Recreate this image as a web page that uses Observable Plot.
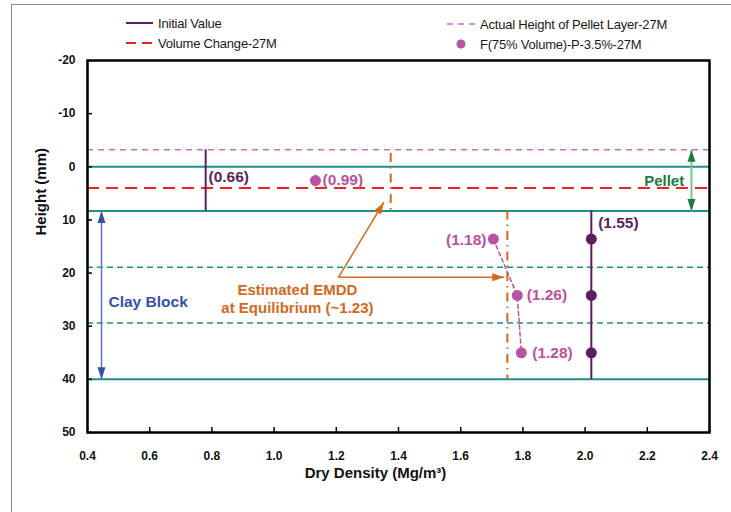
<!DOCTYPE html>
<html><head><meta charset="utf-8">
<script src="https://cdn.jsdelivr.net/npm/d3@7"></script>
<script src="https://cdn.jsdelivr.net/npm/@observablehq/plot@0.6"></script>
<style>
body{margin:0;background:#fff;}
#wrap{position:relative;width:731px;height:512px;overflow:hidden;font-family:"Liberation Sans",Arial,sans-serif;}
#frame{position:absolute;left:11px;top:4px;width:800px;height:600px;border:1px solid #8c8c8c;pointer-events:none;}
.leg{position:absolute;font-size:13px;color:#1a1a1a;display:flex;align-items:center;white-space:nowrap;height:16px;letter-spacing:-0.2px;}
.leg svg{margin-right:5px;display:block;}
</style></head><body>
<div id="wrap"><div id="chart"></div><div id="frame"></div>
<div class="leg" style="left:126px;top:15px"><svg width="27" height="16"><line x1="0" x2="27" y1="8" y2="8" stroke="#5c1f5e" stroke-width="2"/></svg>Initial Value</div>
<div class="leg" style="left:126px;top:35px"><svg width="27" height="16"><line x1="0" x2="27" y1="8" y2="8" stroke="#f02020" stroke-width="2" stroke-dasharray="10,6"/></svg>Volume Change-27M</div>
<div class="leg" style="left:447px;top:16px"><svg width="28" height="16"><line x1="0" x2="28" y1="8" y2="8" stroke="#c36fc3" stroke-width="1.5" stroke-dasharray="6,5"/></svg>Actual Height of Pellet Layer-27M</div>
<div class="leg" style="left:447px;top:36px"><svg width="28" height="16"><circle cx="14" cy="8" r="4.5" fill="#b9529f"/></svg>F(75% Volume)-P-3.5%-27M</div>
</div>
<script>
// ---- data ----
const xTicks = [0.4, 0.6, 0.8, 1.0, 1.2, 1.4, 1.6, 1.8, 2.0, 2.2, 2.4];
const yTicks = [-20, -10, 0, 10, 20, 30, 40, 50];
const tealSolidY = [0, 8.3, 40];
const tealDashedY = [18.9, 29.4];
const pelletActualY = [-3.2];
const volumeChangeY = [4.0];
const initialLines = [{x: 0.78, y1: -3.2, y2: 8.3}, {x: 2.02, y1: 8.3, y2: 40}];
const initialPoints = [{x: 2.02, y: 13.6}, {x: 2.02, y: 24.2}, {x: 2.02, y: 35.0}];
const initialLabels = [{x: 0.789, y: 1.95, label: "(0.66)"}, {x: 2.042, y: 10.6, label: "(1.55)"}];
const fPoints = [{x: 1.133, y: 2.6}, {x: 1.705, y: 13.6}, {x: 1.782, y: 24.2}, {x: 1.795, y: 35.0}];
const fCurve = [{x: 1.705, y: 13.6}, {x: 1.782, y: 24.2}, {x: 1.795, y: 35.0}];
const fLabelsStart = [{x: 1.156, y: 2.4, label: "(0.99)"}, {x: 1.812, y: 24.2, label: "(1.26)"}, {x: 1.830, y: 35.0, label: "(1.28)"}];
const fLabelsEnd = [{x: 1.683, y: 13.7, label: "(1.18)"}];
const emddLines = [{x: 1.375, y1: -2.5, y2: 8.3}, {x: 1.75, y1: 8.3, y2: 40}];
const emddArrows = [{x1: 1.207, y1: 20.8, x2: 1.353, y2: 6.67}, {x1: 1.207, y1: 20.8, x2: 1.74, y2: 20.8}];
const emddText = [{x: 1.075, y: 24.7, label: "Estimated EMDD\nat Equilibrium (~1.23)"}];
const pelletArrow = [{x1: 2.342, y1: 8.3, x2: 2.342, y2: -3.2}, {x1: 2.342, y1: -3.2, x2: 2.342, y2: 8.3}];
const pelletText = [{x: 2.19, y: 2.7, label: "Pellet"}];
const clayArrow = [{x1: 0.445, y1: 40, x2: 0.445, y2: 8.3}, {x1: 0.445, y1: 8.3, x2: 0.445, y2: 40}];
const clayText = [{x: 0.445, y: 25.5, label: "Clay Block"}];

// ---- layout ----
const W = 731, H = 512, mL = 87, mR = 22, mT = 60, mB = 80;
const xDomain = [0.4, 2.4], yDomain = [-20, 50];
const xs = Plot.scale({x: {domain: xDomain, range: [mL, W - mR]}});
const ys = Plot.scale({y: {domain: yDomain, range: [mT, H - mB]}});
const headLen = 12;
const headSymbol = {draw(ctx) { ctx.moveTo(0, -headLen); ctx.lineTo(4, 0); ctx.lineTo(-4, 0); ctx.closePath(); }};
function heads(arr) {
  return arr.map(d => {
    const px1 = xs.apply(d.x1), py1 = ys.apply(d.y1), px2 = xs.apply(d.x2), py2 = ys.apply(d.y2);
    const L = Math.hypot(px2 - px1, py2 - py1), ux = (px2 - px1) / L, uy = (py2 - py1) / L;
    return {x: xs.invert(px2 - ux * headLen), y: ys.invert(py2 - uy * headLen), r: Math.atan2(ux, -uy) * 180 / Math.PI};
  });
}

const purple = "#5c1f5e", pink = "#b9529f", teal = "#1f8f8c", orange = "#d2691e";
const font = {fontFamily: "Liberation Sans, Arial, sans-serif", fontWeight: "bold"};

const plot = Plot.plot({
  width: W, height: H, marginLeft: mL, marginRight: mR, marginTop: mT, marginBottom: mB,
  style: {fontFamily: "Liberation Sans, Arial, sans-serif", background: "transparent", overflow: "visible"},
  x: {domain: xDomain},
  y: {domain: yDomain, reverse: true},
  marks: [
    Plot.ruleY(tealDashedY, {y: d => d, stroke: teal, strokeWidth: 1.5, strokeDasharray: "6,4"}),
    Plot.ruleY(pelletActualY, {y: d => d, stroke: "#c36fc3", strokeWidth: 1.5, strokeDasharray: "6,5"}),
    Plot.ruleY(tealSolidY, {y: d => d, stroke: teal, strokeWidth: 2}),
    Plot.ruleY(volumeChangeY, {y: d => d, stroke: "#f02020", strokeWidth: 2, strokeDasharray: "12,7"}),
    Plot.ruleX(emddLines, {x: "x", y1: "y1", y2: "y2", stroke: orange, strokeWidth: 2, strokeDasharray: "9,5,1.5,5"}),
    Plot.ruleX(initialLines, {x: "x", y1: "y1", y2: "y2", stroke: purple, strokeWidth: 2}),
    // arrows
    Plot.link(emddArrows, {x1: "x1", y1: "y1", x2: "x2", y2: "y2", stroke: orange, strokeWidth: 1.5}),
    Plot.dot(heads(emddArrows), {x: "x", y: "y", rotate: "r", symbol: headSymbol, fill: orange, r: 4}),
    Plot.link(pelletArrow.slice(0, 1), {x1: "x1", y1: "y1", x2: "x2", y2: "y2", stroke: "#7cc09a", strokeWidth: 2}),
    Plot.dot(heads(pelletArrow), {x: "x", y: "y", rotate: "r", symbol: headSymbol, fill: "#1b7d40", r: 4}),
    Plot.link(clayArrow.slice(0, 1), {x1: "x1", y1: "y1", x2: "x2", y2: "y2", stroke: "#5b75c4", strokeWidth: 1.5}),
    Plot.dot(heads(clayArrow), {x: "x", y: "y", rotate: "r", symbol: headSymbol, fill: "#3351a8", r: 4}),
    // series
    Plot.line(fCurve, {x: "x", y: "y", stroke: pink, strokeWidth: 1.5, strokeDasharray: "4,3", curve: "linear"}),
    Plot.dot(initialPoints, {x: "x", y: "y", r: 5.5, fill: purple}),
    Plot.dot(fPoints, {x: "x", y: "y", r: 5.5, fill: pink}),
    // labels
    Plot.text(initialLabels, {x: "x", y: "y", text: "label", textAnchor: "start", fill: purple, fontSize: 15.5, ...font}),
    Plot.text(fLabelsStart, {x: "x", y: "y", text: "label", textAnchor: "start", fill: pink, fontSize: 15.5, ...font}),
    Plot.text(fLabelsEnd, {x: "x", y: "y", text: "label", textAnchor: "end", fill: pink, fontSize: 15.5, ...font}),
    Plot.text(emddText, {x: "x", y: "y", text: "label", textAnchor: "middle", fill: orange, fontSize: 15, lineHeight: 1.22, ...font}),
    Plot.text(pelletText, {x: "x", y: "y", text: "label", textAnchor: "start", fill: "#1b7d40", fontSize: 15, ...font}),
    Plot.text(clayText, {x: "x", y: "y", text: "label", textAnchor: "start", dx: 7, fill: "#3351a8", fontSize: 15.5, ...font}),
    // axes
    Plot.frame({stroke: "black", strokeWidth: 2.5}),
    Plot.tickY(yTicks, {y: d => d, stroke: "black", strokeWidth: 1.5, insetRight: (W - mL - mR) - 5}),
    Plot.tickX(xTicks, {x: d => d, stroke: "black", strokeWidth: 1.5, insetTop: (H - mT - mB) - 5}),
    Plot.axisY(yTicks, {tickSize: 0, tickPadding: 12, fontSize: 12, fontWeight: "bold", label: null, fill: "#111", tickFormat: d => String(d)}),
    Plot.axisX(xTicks, {tickSize: 0, tickPadding: 19, fontSize: 12, fontWeight: "bold", label: null, fill: "#111", tickFormat: d => d.toFixed(1)}),
    Plot.text(["Height (mm)"], {frameAnchor: "left", rotate: -90, dx: -46, dy: -11, fontSize: 15, ...font, fill: "#111"}),
    Plot.text(["Dry Density (Mg/m³)"], {frameAnchor: "bottom", dx: -23, dy: 45, fontSize: 15, ...font, fill: "#111"})
  ]
});
document.getElementById("chart").appendChild(plot);
</script>
</body></html>
